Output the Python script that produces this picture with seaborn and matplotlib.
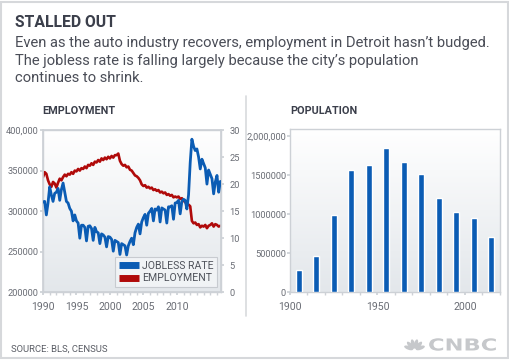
"""Detroit: employment, jobless rate and population"""

import numpy as np
import pandas as pd
import matplotlib

matplotlib.use("Agg")
import matplotlib.pyplot as plt
import matplotlib.transforms as mtransforms
from matplotlib.colors import LinearSegmentedColormap
from matplotlib.font_manager import FontProperties
from matplotlib.lines import Line2D
from matplotlib.patches import Ellipse, PathPatch
from matplotlib.textpath import TextPath
import seaborn as sns

# --- data -------------------------------------------------------------
# quarterly readings, starting 1990 Q1
jobless_rate = [
    16.7, 16.8, 14.3, 16.5,   # 1990
    19.5, 18.0, 16.8, 18.3,   # 1991
    18.5, 19.2, 17.0, 19.0,   # 1992
    20.2, 18.5, 16.8, 16.5,   # 1993
    15.5, 15.0, 13.2, 14.3,   # 1994
    13.2, 12.8, 10.0, 12.4,   # 1995
    12.4, 12.0, 9.5, 12.2,    # 1996
    12.3, 11.8, 9.6, 12.0,    # 1997
    11.2, 11.0, 9.0, 10.8,    # 1998
    10.6, 10.2, 8.4, 10.3,    # 1999
    10.2, 9.8, 7.6, 9.6,      # 2000
    9.4, 9.2, 7.0, 9.0,       # 2001
    8.8, 8.6, 6.9, 8.6,       # 2002
    9.4, 10.0, 8.8, 11.0,     # 2003
    12.0, 12.6, 10.8, 13.0,   # 2004
    13.8, 14.4, 12.4, 14.6,   # 2005
    15.0, 15.5, 13.2, 15.4,   # 2006
    15.2, 15.8, 13.0, 15.6,   # 2007
    15.4, 15.2, 12.8, 15.8,   # 2008
    15.8, 16.0, 13.5, 16.5,   # 2009
    16.6, 17.0, 14.5, 16.8,   # 2010
    17.2, 17.0, 15.4, 18.0,   # 2011
    24.0, 28.3, 27.0, 26.2,   # 2012
    26.5, 25.0, 22.8, 24.6,   # 2013
    23.8, 23.0, 20.0, 22.6,   # 2014
    21.8, 21.0, 18.2, 20.4,   # 2015
    21.6, 18.5, 20.5,         # 2016
]
employment = [
    342, 348, 346, 338,   # 1990
    333, 330, 336, 334,   # 1991
    329, 335, 340, 338,   # 1992
    342, 345, 343, 346,   # 1993
    345, 348, 346, 350,   # 1994
    349, 352, 350, 353,   # 1995
    352, 355, 353, 357,   # 1996
    356, 359, 357, 361,   # 1997
    360, 363, 361, 365,   # 1998
    363, 366, 364, 367,   # 1999
    365, 368, 366, 369,   # 2000
    369, 371, 362, 358,   # 2001
    356, 357, 354, 355,   # 2002
    351, 350, 347, 344,   # 2003
    343, 341, 338, 333,   # 2004
    331, 332, 329, 330,   # 2005
    328, 329, 326, 327,   # 2006
    325, 326, 323, 324,   # 2007
    322, 323, 320, 321,   # 2008
    319, 320, 317, 318,   # 2009
    317, 318, 315, 316,   # 2010
    313, 311, 309, 308,   # 2011
    306, 288, 285, 286,   # 2012
    283, 284, 280, 282,   # 2013
    281, 283, 279, 282,   # 2014
    283, 285, 281, 284,   # 2015
    283, 281, 282,        # 2016
]
census_years = ["1900", "1910", "1920", "1930", "1940", "1950",
                "1960", "1970", "1980", "1990", "2000", "2010"]
population = [285704, 465766, 993678, 1568662, 1623452, 1849568,
              1670144, 1514063, 1203368, 1027974, 951270, 713777]

emp_ticks = [200000, 250000, 300000, 350000, 400000]
emp_labels = ["200000", "250000", "300000", "350000", "400,000"]
rate_ticks = [0, 5, 10, 15, 20, 25, 30]
year_ticks = [1990, 1995, 2000, 2005, 2010]
pop_ticks = [0, 500000, 1000000, 1500000, 2000000]
pop_labels = ["0", "500000", "1000000", "1500000", "2,000,000"]

quarter = 1990 + np.arange(len(jobless_rate)) * 0.25
df_jobs = pd.DataFrame({"year": quarter,
                        "rate": jobless_rate,
                        "employment": np.array(employment) * 1000})
df_pop = pd.DataFrame({"year": census_years, "population": population})

# --- style ------------------------------------------------------------
sns.set_theme(style="white")
plt.rcParams["font.family"] = ["Roboto", "DejaVu Sans"]

BLUE = "#0b5cb4"
RED = "#b00a0a"
TXT = "#3b3f4b"
TICK = "#6a6d75"
EDGE = "#cdd1d6"
LOGO = "#c6c8cb"
W, H = 510, 361

bg_cmap = LinearSegmentedColormap.from_list("bg", ["#ffffff", "#e3e7eb"])
grad = np.linspace(0, 1, 256).reshape(-1, 1)


def px_axes(fig, x0, y0, x1, y1):
    return fig.add_axes([x0 / W, 1 - y1 / H, (x1 - x0) / W, (y1 - y0) / H])


def frame(ax):
    ax.imshow(grad, extent=[0, 1, 0, 1], transform=ax.transAxes,
              aspect="auto", cmap=bg_cmap, zorder=0)
    for s in ax.spines.values():
        s.set_color(EDGE)
        s.set_linewidth(1)


fig = plt.figure(figsize=(W / 100, H / 100), dpi=100)

# --- employment / jobless rate ------------------------------------------
ax1 = px_axes(fig, 43, 130, 221, 292.3)
frame(ax1)
ax1b = ax1.twinx()

sns.lineplot(data=df_jobs, x="year", y="employment", ax=ax1,
             color=RED, linewidth=1.9, zorder=3)
sns.lineplot(data=df_jobs, x="year", y="rate", ax=ax1b,
             color=BLUE, linewidth=2.0, zorder=3)

ax1.set_xlim(1990, 2016.6)
ax1.set_ylim(200000, 400000)
ax1b.set_ylim(0, 30)
ax1.set_xticks(year_ticks)
ax1.set_xticks(np.arange(1990, 2017), minor=True)
ax1.set_yticks(emp_ticks)
ax1.set_yticklabels(emp_labels)
ax1b.set_yticks(rate_ticks)
for a in (ax1, ax1b):
    a.set_xlabel("")
    a.set_ylabel("")
    for s in a.spines.values():
        s.set_color(EDGE)
ax1.tick_params(axis="x", which="both", direction="out", length=2,
                color=EDGE, labelsize=7.6, labelcolor=TICK, pad=5, bottom=True)
ax1.tick_params(axis="y", direction="out", length=2, color=EDGE,
                labelsize=6.7, labelcolor=TICK, pad=1.5, left=True)
ax1b.tick_params(axis="y", direction="out", length=2, color=EDGE,
                 labelsize=6.7, labelcolor=TICK, pad=4, right=True)

handles = [Line2D([], [], color=BLUE, lw=5, solid_capstyle="butt"),
           Line2D([], [], color=RED, lw=5, solid_capstyle="butt")]
leg = ax1b.legend(handles, ["JOBLESS RATE", "EMPLOYMENT"],
                  loc="lower right", bbox_to_anchor=(0.978, 0.033),
                  fontsize=7.6, frameon=True, fancybox=False,
                  handlelength=1.9, handletextpad=0.3, labelspacing=0.25,
                  borderpad=0.35, borderaxespad=0)
leg.get_frame().set_facecolor("#f4f6f8")
leg.get_frame().set_edgecolor("#bfc3c8")
leg.get_frame().set_linewidth(0.8)
for t in leg.get_texts():
    t.set_color("#50535b")

# --- population ----------------------------------------------------------
ax2 = px_axes(fig, 290, 129.3, 500, 292.3)
frame(ax2)
sns.barplot(data=df_pop, x="year", y="population", ax=ax2,
            color=BLUE, width=0.34, saturation=1, zorder=3)
ax2.set_xlim(-0.5, len(census_years) - 0.5)
ax2.set_ylim(0, 2086000)
ax2.set_xlabel("")
ax2.set_ylabel("")
ax2.set_xticks([-0.5, 4.5, 9.5])
ax2.set_xticklabels(["1900", "1950", "2000"])
ax2.set_xticks(np.arange(-0.5, len(census_years)), minor=True)
ax2.set_yticks(pop_ticks)
ax2.set_yticklabels(pop_labels)
ax2.tick_params(axis="x", which="both", direction="out", length=2,
                color=EDGE, labelsize=7.6, labelcolor=TICK, pad=5, bottom=True)
ax2.tick_params(axis="y", direction="out", length=2, color=EDGE,
                labelsize=6.7, labelcolor=TICK, pad=1.0, left=True)

# --- text ------------------------------------------------------------------
def ftext(x, y, s, **kw):
    fig.text(x / W, 1 - y / H, s, va="baseline", **kw)


ftext(15, 27, "STALLED OUT", fontsize=11.3, fontweight="bold", color=TXT)
sub = ["Even as the auto industry recovers, employment in Detroit hasn\u2019t budged.",
       "The jobless rate is falling largely because the city\u2019s population",
       "continues to shrink."]
for i, line in enumerate(sub):
    ftext(15, 47.3 + i * 17.4, line, fontsize=10.6, color="#4a4d57")
ftext(42, 114, "EMPLOYMENT", fontsize=7.8, fontweight="bold", color=TXT)
ftext(290, 114, "POPULATION", fontsize=7.8, fontweight="bold", color=TXT)
ftext(11.5, 352, "SOURCE: BLS, CENSUS", fontsize=6.8, color="#5a5d65")

# logo: stretched wordmark plus peacock feathers
word = TextPath((0, 0), "CNBC", size=16.5,
                prop=FontProperties(family="DejaVu Sans", weight="bold"))
fig.add_artist(PathPatch(word, color=LOGO, lw=0,
                         transform=mtransforms.Affine2D().scale(1.37, 1.0)
                         .translate(428, H - 350.5)))
axl = px_axes(fig, 403, 336, 426, 351)
axl.set_xlim(-1.15, 1.15)
axl.set_ylim(0, 1.5)
axl.set_aspect("equal")
axl.axis("off")
for ang in [20, 48, 76, 104, 132, 160]:
    r = np.deg2rad(ang)
    axl.add_patch(Ellipse((0.62 * np.cos(r), 0.1 + 0.62 * np.sin(r)), 0.95, 0.38,
                          angle=ang, color=LOGO, lw=0))

# separator and outer border
fig.add_artist(Line2D([246 / W, 246 / W], [1 - 96 / H, 1 - 316 / H],
                      transform=fig.transFigure, color="#d8dadd", lw=1.2))
fig.add_artist(plt.Rectangle((1 / W, 3 / H), (W - 3) / W, (H - 5) / H,
                             transform=fig.transFigure, fill=False,
                             edgecolor="#d6d8db", lw=1.5))

plt.savefig("out.png", dpi=100)
plt.close()
